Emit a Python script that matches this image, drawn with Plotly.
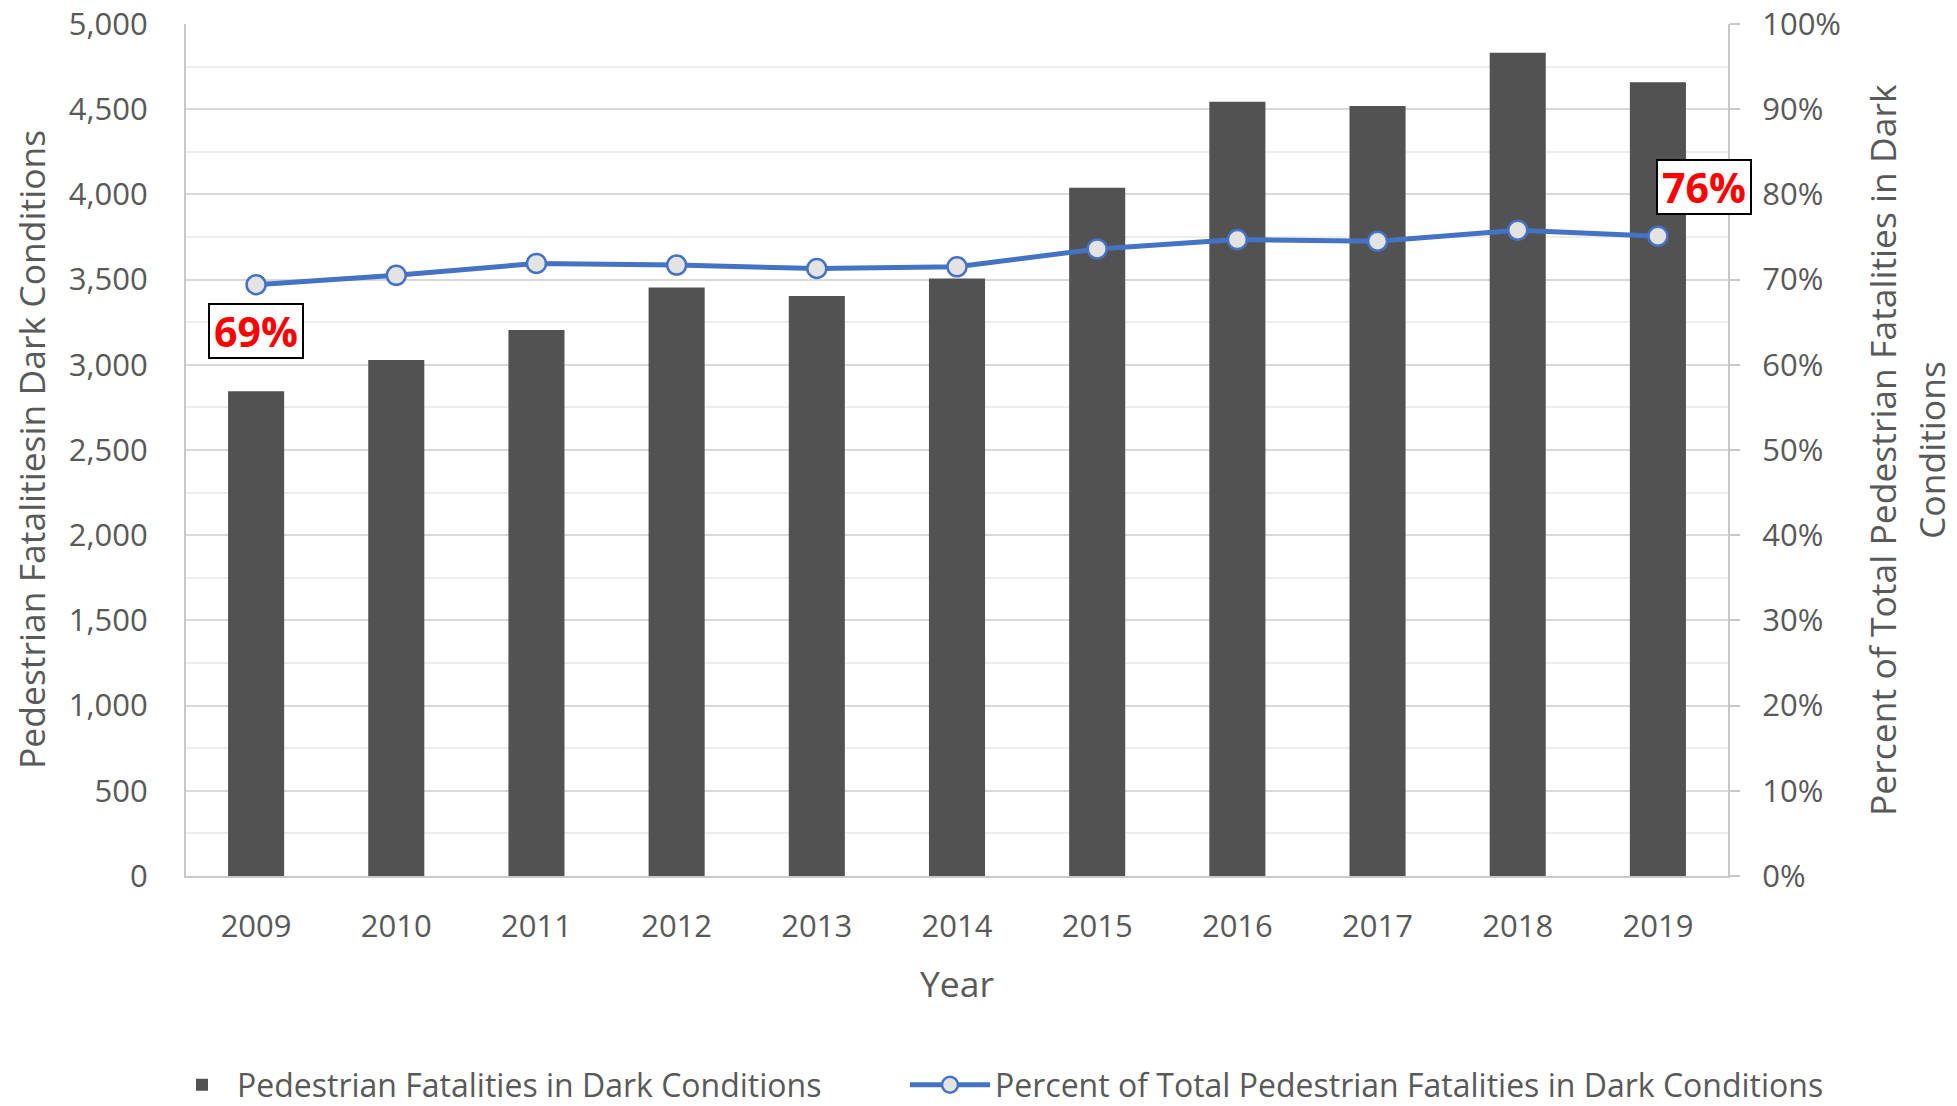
import plotly.graph_objects as go

years = ["2009", "2010", "2011", "2012", "2013", "2014", "2015", "2016", "2017", "2018", "2019"]
dark_fatalities = [2845, 3028, 3204, 3453, 3404, 3507, 4039, 4544, 4519, 4832, 4658]
pct_dark = [69.4, 70.5, 71.9, 71.7, 71.3, 71.5, 73.6, 74.7, 74.5, 75.8, 75.1]
left_ticks = [0, 500, 1000, 1500, 2000, 2500, 3000, 3500, 4000, 4500, 5000]
right_ticks = [0, 10, 20, 30, 40, 50, 60, 70, 80, 90, 100]
right_tick_text = [str(v) + "&#37;" for v in right_ticks]
callout_years = ["2009", "2019"]
callout_labels = ["69&#37;", "76&#37;"]

FONT = "Open Sans"
GRAY_TXT = "#595959"
AXIS_COL = "#C8C8C8"

W, H = 1957, 1106
L, R, T, B = 186, 229, 24, 230
PW, PH = W - L - R, H - T - B

fig = go.Figure()
fig.add_trace(go.Bar(
    x=years, y=dark_fatalities, name="Pedestrian Fatalities in Dark Conditions",
    marker=dict(color="#525252", line=dict(width=0)), yaxis="y", legend="legend",
))
fig.add_trace(go.Scatter(
    x=years, y=pct_dark, name="Percent of Total Pedestrian Fatalities in Dark Conditions",
    mode="lines+markers", yaxis="y2", legend="legend2",
    line=dict(color="#4472C4", width=5),
    marker=dict(size=19, color="#E3E3E3", line=dict(color="#4472C4", width=2.5)),
))

leg_common = dict(
    orientation="h", xref="container", yref="container", xanchor="left",
    yanchor="middle", y=(H - 1085) / H, bgcolor="rgba(0,0,0,0)",
    font=dict(size=32, color=GRAY_TXT), borderwidth=0,
)

fig.update_layout(
    width=W, height=H,
    margin=dict(l=L, r=R, t=T, b=B, autoexpand=False),
    paper_bgcolor="white", plot_bgcolor="white",
    font=dict(family=FONT, size=31, color=GRAY_TXT),
    bargap=0.6,
    showlegend=True,
    legend=dict(x=167 / W, itemwidth=60, **leg_common),
    legend2=dict(x=905 / W, itemwidth=80, **leg_common),
    xaxis=dict(
        type="category", range=[-0.5, 10.5], automargin=False,
        showline=True, linecolor=AXIS_COL, linewidth=2,
        showgrid=False, ticks="", ticklabelstandoff=22,
        tickfont=dict(size=31, color=GRAY_TXT),
    ),
    yaxis=dict(
        range=[0, 5000], tickvals=left_ticks, tickformat=",", automargin=False,
        showline=True, linecolor=AXIS_COL, linewidth=2,
        showgrid=True, gridcolor="#D9D9D9", gridwidth=2,
        minor=dict(dtick=250, showgrid=True, gridcolor="#EDEDED", gridwidth=2),
        ticks="", ticklabelstandoff=30, zeroline=False,
        tickfont=dict(size=31, color=GRAY_TXT),
    ),
    yaxis2=dict(
        range=[0, 100], tickvals=right_ticks, ticktext=right_tick_text,
        overlaying="y", side="right", automargin=False,
        showline=True, linecolor=AXIS_COL, linewidth=2,
        showgrid=False, zeroline=False,
        ticks="outside", ticklen=10, tickcolor=AXIS_COL, tickwidth=2,
        ticklabelstandoff=16,
        tickfont=dict(size=31, color=GRAY_TXT),
    ),
)

# axis titles
fig.add_annotation(
    text="Pedestrian Fatalitiesin Dark Conditions", textangle=-90,
    xref="paper", yref="paper", x=(31 - L) / PW, y=0.5,
    xanchor="center", yanchor="middle", showarrow=False,
    font=dict(size=35.5, color=GRAY_TXT),
)
fig.add_annotation(
    text="Percent of Total Pedestrian Fatalities in Dark", textangle=-90,
    xref="paper", yref="paper", x=(1882 - L) / PW, y=0.5,
    xanchor="center", yanchor="middle", showarrow=False,
    font=dict(size=35.5, color=GRAY_TXT),
)
fig.add_annotation(
    text="Conditions", textangle=-90,
    xref="paper", yref="paper", x=(1931 - L) / PW, y=0.5,
    xanchor="center", yanchor="middle", showarrow=False,
    font=dict(size=35.5, color=GRAY_TXT),
)
fig.add_annotation(
    text="Year", xref="paper", yref="paper", x=0.5, y=(876 - 983) / PH,
    xanchor="center", yanchor="middle", showarrow=False,
    font=dict(size=35.5, color=GRAY_TXT),
)

# callouts (red percentage boxes)
shifts = {"2009": (0, -46), "2019": (46, 49)}
for yr, lab in zip(callout_years, callout_labels):
    i = years.index(yr)
    dx, dy = shifts[yr]
    fig.add_annotation(
        text="<b>" + lab + "</b>", x=i, y=pct_dark[i], xref="x", yref="y2",
        xshift=dx, yshift=dy, showarrow=False,
        xanchor="center", yanchor="middle", width=92, height=52,
        font=dict(size=41, color="#FF0000", family=FONT),
        bgcolor="white", bordercolor="black", borderwidth=2, borderpad=0,
    )

fig.write_html(
    "out.html",
    config={"displayModeBar": False},
    post_script="document.body.style.margin='0';document.body.style.overflow='hidden';",
)
